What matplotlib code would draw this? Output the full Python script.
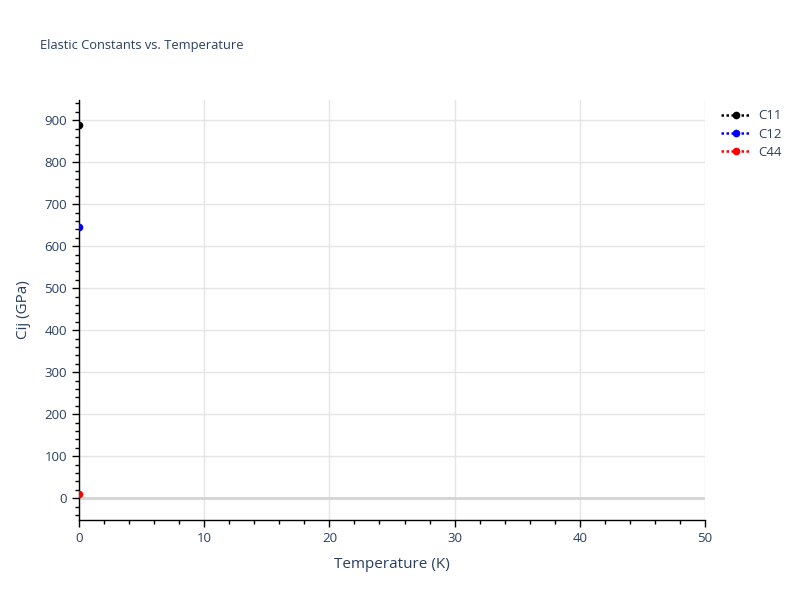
import matplotlib
matplotlib.use("Agg")
import matplotlib.pyplot as plt
from matplotlib.ticker import MultipleLocator
from matplotlib.lines import Line2D

temperature = [0]
c11 = [889]
c12 = [646]
c44 = [10]
series_names = ["C11", "C12", "C44"]
series_colors = ["black", "blue", "red"]

plt.rcParams['font.family'] = ['Open Sans', 'DejaVu Sans']
txt = "#2a3f5f"

fig = plt.figure(figsize=(8, 6), dpi=100)
ax = fig.add_axes([79/800, 80/600, 626/800, 420/600])

for vals, name, col in zip([c11, c12, c44], series_names, series_colors):
    ax.plot(temperature, vals, linestyle=':', color=col, marker='o', markersize=4.5,
            linewidth=2, label=name, zorder=5, clip_on=True)

ax.set_xlim(0, 50)
ax.set_ylim(-52, 948)
ax.xaxis.set_major_locator(MultipleLocator(10))
ax.xaxis.set_minor_locator(MultipleLocator(2))
ax.yaxis.set_major_locator(MultipleLocator(100))
ax.yaxis.set_minor_locator(MultipleLocator(20))

ax.grid(True, which='major', color='#e5e5e5', linewidth=1, zorder=0)
ax.axhline(0, color='#d4d4d4', linewidth=2, zorder=1)
for s in ['top', 'right']:
    ax.spines[s].set_visible(False)
for s in ['left', 'bottom']:
    ax.spines[s].set_color('black')
    ax.spines[s].set_linewidth(1)
ax.set_axisbelow(True)

ax.tick_params(axis='both', which='major', length=5, width=1, color='black',
               labelcolor=txt, labelsize=9.5, direction='out')
ax.tick_params(axis='both', which='minor', length=3, width=1, color='black', direction='out')

ax.set_xlabel("Temperature (K)", color=txt, fontsize=11, labelpad=9)
ax.set_ylabel("Cij (GPa)", color=txt, fontsize=11, labelpad=10)

fig.text(40/800, 1 - 45/600, "Elastic Constants vs. Temperature", color=txt,
         fontsize=9.3, va='center', ha='left')

handles = [Line2D([0], [0], linestyle=(0, (1, 1)), color=c, marker='o', markersize=4.5, linewidth=1.8)
           for c in series_colors]
leg = fig.legend(handles, series_names, loc='upper left', bbox_to_anchor=(716/800, 1 - 104/600),
                 frameon=False, fontsize=9.5, handlelength=2.2, labelspacing=0.4,
                 handletextpad=0.6, borderaxespad=0)
for t in leg.get_texts():
    t.set_color(txt)

fig.savefig("out.png", dpi=100)
